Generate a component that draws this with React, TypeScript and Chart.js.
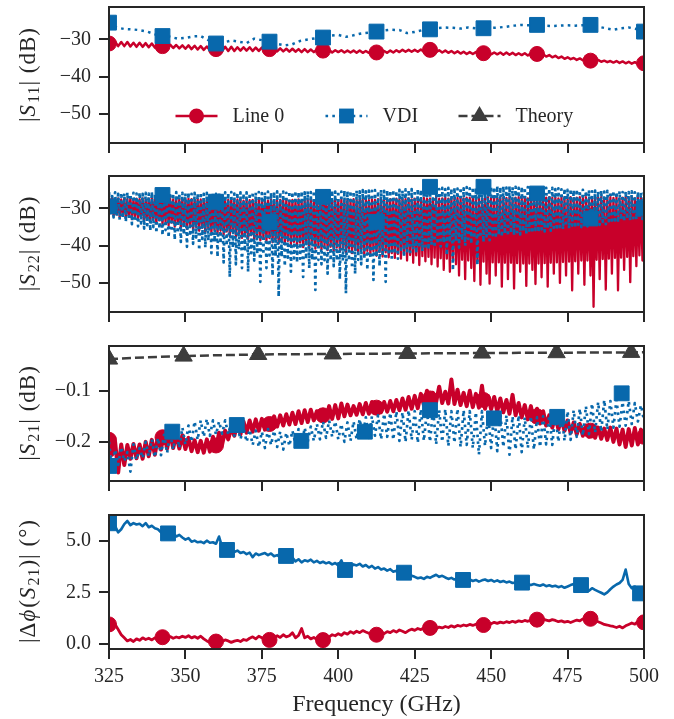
import React, { useEffect, useRef } from 'react';
import { Chart, registerables } from 'chart.js';

Chart.register(...registerables);

const FONT = "'Liberation Serif', 'Times New Roman', serif";
const TEXT = '#262626';
const SPINE = '#262626';
const RED = '#c8002a';
const BLUE = '#0868ac';
const GREY = '#3d3d3d';

// ---------------- data ----------------
const FREQ = [
  325, 326, 327, 328, 329, 330, 331, 332, 333, 334,
  335, 336, 337, 338, 339, 340, 341, 342, 343, 344,
  345, 346, 347, 348, 349, 350, 351, 352, 353, 354,
  355, 356, 357, 358, 359, 360, 361, 362, 363, 364,
  365, 366, 367, 368, 369, 370, 371, 372, 373, 374,
  375, 376, 377, 378, 379, 380, 381, 382, 383, 384,
  385, 386, 387, 388, 389, 390, 391, 392, 393, 394,
  395, 396, 397, 398, 399, 400, 401, 402, 403, 404,
  405, 406, 407, 408, 409, 410, 411, 412, 413, 414,
  415, 416, 417, 418, 419, 420, 421, 422, 423, 424,
  425, 426, 427, 428, 429, 430, 431, 432, 433, 434,
  435, 436, 437, 438, 439, 440, 441, 442, 443, 444,
  445, 446, 447, 448, 449, 450, 451, 452, 453, 454,
  455, 456, 457, 458, 459, 460, 461, 462, 463, 464,
  465, 466, 467, 468, 469, 470, 471, 472, 473, 474,
  475, 476, 477, 478, 479, 480, 481, 482, 483, 484,
  485, 486, 487, 488, 489, 490, 491, 492, 493, 494,
  495, 496, 497, 498, 499, 500,
];

const FREQ_HALF = [
  325, 325.5, 326, 326.5, 327, 327.5, 328, 328.5, 329, 329.5,
  330, 330.5, 331, 331.5, 332, 332.5, 333, 333.5, 334, 334.5,
  335, 335.5, 336, 336.5, 337, 337.5, 338, 338.5, 339, 339.5,
  340, 340.5, 341, 341.5, 342, 342.5, 343, 343.5, 344, 344.5,
  345, 345.5, 346, 346.5, 347, 347.5, 348, 348.5, 349, 349.5,
  350, 350.5, 351, 351.5, 352, 352.5, 353, 353.5, 354, 354.5,
  355, 355.5, 356, 356.5, 357, 357.5, 358, 358.5, 359, 359.5,
  360, 360.5, 361, 361.5, 362, 362.5, 363, 363.5, 364, 364.5,
  365, 365.5, 366, 366.5, 367, 367.5, 368, 368.5, 369, 369.5,
  370, 370.5, 371, 371.5, 372, 372.5, 373, 373.5, 374, 374.5,
  375, 375.5, 376, 376.5, 377, 377.5, 378, 378.5, 379, 379.5,
  380, 380.5, 381, 381.5, 382, 382.5, 383, 383.5, 384, 384.5,
  385, 385.5, 386, 386.5, 387, 387.5, 388, 388.5, 389, 389.5,
  390, 390.5, 391, 391.5, 392, 392.5, 393, 393.5, 394, 394.5,
  395, 395.5, 396, 396.5, 397, 397.5, 398, 398.5, 399, 399.5,
  400, 400.5, 401, 401.5, 402, 402.5, 403, 403.5, 404, 404.5,
  405, 405.5, 406, 406.5, 407, 407.5, 408, 408.5, 409, 409.5,
  410, 410.5, 411, 411.5, 412, 412.5, 413, 413.5, 414, 414.5,
  415, 415.5, 416, 416.5, 417, 417.5, 418, 418.5, 419, 419.5,
  420, 420.5, 421, 421.5, 422, 422.5, 423, 423.5, 424, 424.5,
  425, 425.5, 426, 426.5, 427, 427.5, 428, 428.5, 429, 429.5,
  430, 430.5, 431, 431.5, 432, 432.5, 433, 433.5, 434, 434.5,
  435, 435.5, 436, 436.5, 437, 437.5, 438, 438.5, 439, 439.5,
  440, 440.5, 441, 441.5, 442, 442.5, 443, 443.5, 444, 444.5,
  445, 445.5, 446, 446.5, 447, 447.5, 448, 448.5, 449, 449.5,
  450, 450.5, 451, 451.5, 452, 452.5, 453, 453.5, 454, 454.5,
  455, 455.5, 456, 456.5, 457, 457.5, 458, 458.5, 459, 459.5,
  460, 460.5, 461, 461.5, 462, 462.5, 463, 463.5, 464, 464.5,
  465, 465.5, 466, 466.5, 467, 467.5, 468, 468.5, 469, 469.5,
  470, 470.5, 471, 471.5, 472, 472.5, 473, 473.5, 474, 474.5,
  475, 475.5, 476, 476.5, 477, 477.5, 478, 478.5, 479, 479.5,
  480, 480.5, 481, 481.5, 482, 482.5, 483, 483.5, 484, 484.5,
  485, 485.5, 486, 486.5, 487, 487.5, 488, 488.5, 489, 489.5,
  490, 490.5, 491, 491.5, 492, 492.5, 493, 493.5, 494, 494.5,
  495, 495.5, 496, 496.5, 497, 497.5, 498, 498.5, 499, 499.5,
  500,
];

const FREQ_S11_VDI = [
  325, 327.5, 330, 332.5, 335, 337.5, 340, 342.5, 345, 347.5,
  350, 352.5, 355, 357.5, 360, 362.5, 365, 367.5, 370, 372.5,
  375, 377.5, 380, 382.5, 385, 387.5, 390, 392.5, 395, 397.5,
  400, 402.5, 405, 407.5, 410, 412.5, 415, 417.5, 420, 422.5,
  425, 427.5, 430, 432.5, 435, 437.5, 440, 442.5, 445, 447.5,
  450, 452.5, 455, 457.5, 460, 462.5, 465, 467.5, 470, 472.5,
  475, 477.5, 480, 482.5, 485, 487.5, 490, 492.5, 495, 497.5,
  500,
];

const S11_LINE0 = [
  -30.5, -31.6, -30.6, -31.8, -30.7, -31.8, -30.7, -31.9, -30.9, -32.0,
  -30.9, -32.0, -31.0, -32.1, -31.1, -32.2, -31.1, -32.3, -31.3, -32.4,
  -31.4, -32.3, -31.5, -32.4, -31.6, -32.5, -31.6, -32.6, -31.7, -32.7,
  -31.8, -32.8, -31.9, -32.9, -32.0, -33.0, -31.9, -33.1, -32.0, -33.1,
  -32.0, -33.1, -32.1, -33.0, -32.1, -33.0, -32.1, -33.1, -32.2, -33.1,
  -32.2, -33.1, -32.3, -33.2, -32.3, -33.2, -32.4, -33.2, -32.5, -33.3,
  -32.5, -33.3, -32.6, -33.4, -32.6, -33.4, -32.7, -33.4, -32.7, -33.5,
  -32.8, -33.4, -32.8, -33.5, -32.9, -33.4, -32.9, -33.5, -33.0, -33.5,
  -33.0, -33.6, -33.0, -33.6, -33.1, -33.6, -33.1, -33.7, -33.1, -33.6,
  -33.1, -33.6, -33.0, -33.5, -32.9, -33.4, -32.8, -33.3, -32.8, -33.3,
  -32.8, -33.3, -32.7, -33.3, -32.8, -33.3, -32.8, -33.4, -32.9, -33.5,
  -33.0, -33.6, -33.1, -33.7, -33.2, -33.8, -33.3, -33.9, -33.4, -33.9,
  -33.4, -34.0, -33.5, -34.0, -33.5, -34.0, -33.5, -34.0, -33.5, -34.1,
  -33.5, -34.1, -33.6, -34.2, -33.7, -34.2, -33.7, -34.3, -33.8, -34.4,
  -33.8, -34.4, -34.0, -34.6, -34.2, -34.8, -34.4, -35.0, -34.6, -35.2,
  -34.8, -35.3, -35.0, -35.5, -35.1, -35.6, -35.3, -35.8, -35.4, -35.9,
  -35.5, -36.0, -35.7, -36.1, -35.8, -36.2, -35.8, -36.3, -35.9, -36.4,
  -36.0, -36.5, -36.1, -36.6, -36.2, -36.6,
];

const S11_VDI = [
  -25.5, -26.8, -27.2, -27.3, -27.5, -27.9, -28.6, -29.1, -29.3, -29.8,
  -29.6, -29.2, -29.1, -30.2, -31.0, -30.8, -30.3, -30.6, -31.0, -29.8,
  -30.2, -30.6, -31.2, -31.6, -31.3, -30.4, -30.0, -29.7, -29.5, -29.0,
  -28.8, -29.3, -28.9, -28.4, -28.2, -27.9, -27.6, -27.4, -27.5, -28.3,
  -28.0, -27.5, -27.3, -27.0, -26.8, -26.9, -27.1, -26.8, -27.0, -27.0,
  -26.9, -26.8, -26.6, -26.3, -26.1, -26.2, -26.1, -26.3, -26.4, -26.3,
  -26.2, -26.3, -26.2, -26.1, -26.6, -27.0, -27.4, -27.0, -26.8, -27.2,
  -27.9,
];

// S22 at 0.5 GHz (ripple peaks and troughs)
const S22_LINE0 = [
  -27.4, -31.2, -27.2, -32.0, -27.5, -31.6, -27.3, -32.3, -27.6, -31.8,
  -27.3, -32.6, -27.5, -32.0, -27.2, -32.9, -27.6, -32.2, -27.4, -33.1,
  -27.5, -32.5, -27.3, -33.4, -27.6, -32.8, -27.4, -33.7, -27.2, -33.0,
  -27.5, -34.0, -27.3, -33.2, -27.6, -34.3, -27.4, -33.6, -27.5, -34.6,
  -27.3, -33.8, -27.6, -34.9, -27.4, -34.1, -27.5, -35.2, -27.3, -34.4,
  -27.6, -35.5, -27.4, -34.6, -27.5, -35.8, -27.7, -35.0, -27.4, -36.0,
  -27.6, -35.2, -27.5, -36.3, -27.7, -35.5, -27.4, -36.6, -27.6, -35.8,
  -27.7, -36.8, -27.5, -36.0, -27.8, -37.1, -27.6, -36.2, -27.7, -37.4,
  -27.5, -36.5, -27.8, -37.6, -27.6, -36.8, -27.7, -37.9, -27.9, -37.0,
  -27.6, -38.2, -27.8, -37.2, -27.7, -38.4, -27.9, -37.5, -27.6, -38.6,
  -27.8, -37.8, -27.7, -38.9, -27.9, -38.0, -27.6, -39.1, -27.8, -38.2,
  -27.9, -39.4, -27.7, -38.5, -27.8, -39.6, -27.6, -38.7, -27.9, -39.9,
  -27.7, -39.0, -27.8, -40.1, -27.6, -39.2, -27.9, -40.4, -27.7, -39.5,
  -27.8, -40.6, -27.6, -39.7, -27.9, -40.8, -27.7, -39.9, -27.8, -41.0,
  -27.6, -40.1, -27.9, -41.2, -27.7, -40.3, -27.8, -41.4, -27.6, -40.5,
  -27.9, -41.6, -27.7, -40.7, -27.8, -41.8, -27.6, -40.8, -27.7, -42.0,
  -27.5, -41.0, -27.8, -42.2, -27.6, -41.2, -27.7, -42.4, -27.5, -41.4,
  -27.8, -42.5, -27.6, -41.5, -27.7, -42.7, -27.5, -41.7, -27.6, -42.9,
  -27.4, -41.8, -27.7, -43.1, -27.5, -42.0, -27.6, -43.3, -27.4, -42.2,
  -27.6, -43.5, -27.4, -42.3, -27.5, -44.0, -27.3, -42.5, -27.6, -44.6,
  -27.4, -42.6, -27.3, -45.2, -27.5, -42.8, -27.2, -44.2, -27.4, -43.0,
  -27.3, -45.0, -27.5, -43.2, -27.2, -45.6, -27.4, -43.4, -27.3, -46.5,
  -27.2, -43.5, -27.4, -47.0, -27.1, -43.6, -27.3, -45.0, -27.2, -48.0,
  -27.0, -43.8, -27.3, -49.0, -27.1, -44.0, -27.2, -46.0, -27.0, -49.5,
  -27.2, -44.2, -27.0, -50.5, -27.3, -44.3, -27.1, -47.5, -27.0, -50.2,
  -27.2, -44.5, -27.0, -48.0, -27.3, -44.5, -27.1, -51.0, -27.0, -44.6,
  -27.2, -49.0, -27.0, -44.6, -27.3, -51.5, -27.1, -44.7, -27.0, -47.0,
  -27.2, -44.8, -27.0, -50.8, -27.3, -44.8, -27.1, -46.5, -27.0, -50.3,
  -27.2, -44.8, -27.0, -48.5, -27.3, -44.7, -27.1, -51.0, -27.0, -44.6,
  -27.2, -47.5, -27.0, -44.5, -27.3, -50.0, -27.1, -44.4, -27.0, -48.0,
  -27.2, -44.3, -27.0, -52.0, -27.3, -44.2, -27.1, -47.5, -27.0, -44.0,
  -27.2, -50.5, -27.0, -44.0, -27.3, -48.0, -27.1, -56.4, -27.0, -43.8,
  -27.2, -49.0, -27.0, -43.6, -27.3, -51.8, -27.1, -43.5, -27.0, -47.5,
  -27.2, -43.3, -27.0, -52.0, -27.3, -43.2, -27.1, -46.5, -27.0, -43.0,
  -27.2, -49.8, -27.0, -42.8, -27.3, -45.5, -27.1, -42.6, -27.0, -44.0,
  -27.2,
];

const S22_VDI = [
  -25.6, -31.5, -26.0, -32.4, -25.7, -32.0, -26.1, -33.0, -25.8, -32.6,
  -26.0, -33.6, -25.7, -33.0, -26.2, -34.2, -25.8, -33.5, -26.0, -34.8,
  -25.7, -34.0, -26.1, -35.4, -25.8, -34.5, -26.0, -36.0, -25.6, -35.0,
  -26.1, -36.6, -25.8, -35.4, -26.0, -37.2, -25.7, -35.8, -26.1, -37.8,
  -25.8, -36.2, -26.0, -38.4, -25.6, -36.6, -26.1, -39.0, -25.8, -37.0,
  -26.0, -40.3, -25.7, -37.4, -26.1, -39.5, -25.8, -37.8, -26.0, -41.2,
  -25.7, -38.2, -26.1, -40.5, -25.8, -38.6, -26.0, -42.0, -25.6, -39.0,
  -26.1, -43.0, -25.8, -39.4, -26.0, -44.5, -25.7, -40.0, -25.9, -48.4,
  -25.6, -40.5, -26.0, -45.0, -25.8, -41.0, -25.7, -46.0, -26.0, -41.5,
  -25.7, -47.0, -25.9, -42.0, -25.6, -44.0, -25.8, -42.2, -25.6, -49.7,
  -25.9, -42.4, -25.7, -46.0, -25.5, -42.6, -25.8, -48.0, -25.6, -42.8,
  -25.4, -53.7, -25.7, -43.0, -25.5, -45.5, -25.8, -43.2, -25.4, -47.0,
  -25.6, -43.4, -25.3, -44.5, -25.6, -43.5, -25.4, -48.4, -25.7, -43.6,
  -25.4, -46.0, -25.6, -43.8, -25.3, -51.9, -25.5, -43.8, -25.4, -45.0,
  -25.6, -43.9, -25.3, -47.5, -25.5, -44.0, -25.2, -45.5, -25.5, -44.0,
  -25.3, -49.0, -25.5, -44.0, -25.2, -52.8, -25.4, -44.0, -25.3, -46.0,
  -25.5, -47.5, -25.2, -43.8, -25.4, -45.0, -25.1, -43.6, -25.4, -46.5,
  -25.2, -43.4, -25.3, -49.2, -25.1, -43.0, -25.4, -45.5, -25.0, -42.8,
  -25.3, -49.7, -25.1, -42.5, -25.2, -44.0, -25.0, -42.2, -25.3, -43.5,
  -25.0, -41.8, -25.2, -43.0, -24.9, -41.5, -25.1, -42.5, -24.8, -41.0,
  -25.1, -42.0, -24.8, -40.6, -25.0, -41.5, -24.7, -40.2, -24.9, -41.0,
  -24.6, -39.8, -24.9, -40.5, -24.6, -39.5, -24.8, -40.2, -24.5, -39.2,
  -24.8, -42.5, -24.5, -39.0, -24.7, -46.6, -24.4, -38.8, -24.7, -40.5,
  -24.4, -38.5, -24.6, -40.0, -24.3, -38.2, -24.6, -39.5, -24.3, -38.0,
  -24.5, -45.2, -24.2, -37.8, -24.5, -39.0, -24.1, -37.5, -24.4, -38.5,
  -24.1, -37.2, -24.3, -38.0, -24.0, -37.0, -24.3, -37.6, -24.1, -36.8,
  -24.4, -37.4, -24.0, -36.6, -24.3, -37.2, -24.2, -36.4, -24.5, -37.0,
  -24.2, -36.2, -24.4, -36.8, -24.3, -36.0, -24.6, -36.6, -24.4, -35.8,
  -24.6, -36.4, -24.4, -35.6, -24.7, -36.2, -24.5, -35.4, -24.7, -36.0,
  -24.5, -35.2, -24.8, -35.8, -24.6, -35.0, -24.9, -35.6, -24.7, -34.8,
  -25.0, -35.4, -24.8, -34.6, -25.1, -35.2, -24.9, -34.4, -25.2, -35.0,
  -25.0, -34.2, -25.3, -34.8, -25.1, -34.0, -25.4, -34.6, -25.2, -33.8,
  -25.4, -34.4, -25.2, -33.6, -25.5, -34.2, -25.3, -33.4, -25.5, -34.0,
  -25.3, -33.2, -25.6, -33.8, -25.4, -33.0, -25.6, -33.5, -25.4, -32.8,
  -25.6, -33.2, -25.4, -32.6, -25.7, -33.0, -25.5, -32.4, -25.6, -32.8,
  -25.6,
];

const S21_LINE0 = [
  -0.193, -0.225, -0.200, -0.260, -0.205, -0.245, -0.206, -0.233, -0.204, -0.232,
  -0.205, -0.233, -0.200, -0.228, -0.196, -0.225, -0.190, -0.215, -0.180, -0.213,
  -0.182, -0.212, -0.185, -0.213, -0.187, -0.214, -0.192, -0.218, -0.197, -0.220,
  -0.198, -0.221, -0.195, -0.219, -0.190, -0.215, -0.182, -0.205, -0.178, -0.195,
  -0.172, -0.188, -0.164, -0.185, -0.160, -0.182, -0.158, -0.180, -0.156, -0.178,
  -0.155, -0.176, -0.156, -0.172, -0.150, -0.170, -0.148, -0.168, -0.146, -0.166,
  -0.143, -0.165, -0.140, -0.163, -0.138, -0.161, -0.137, -0.158, -0.140, -0.156,
  -0.138, -0.156, -0.130, -0.155, -0.128, -0.154, -0.125, -0.150, -0.127, -0.148,
  -0.130, -0.147, -0.126, -0.146, -0.124, -0.145, -0.122, -0.143, -0.124, -0.142,
  -0.122, -0.141, -0.120, -0.140, -0.118, -0.138, -0.115, -0.137, -0.112, -0.135,
  -0.110, -0.134, -0.106, -0.128, -0.100, -0.125, -0.104, -0.122, -0.092, -0.124,
  -0.102, -0.125, -0.078, -0.126, -0.098, -0.128, -0.104, -0.130, -0.100, -0.132,
  -0.106, -0.133, -0.090, -0.135, -0.110, -0.136, -0.112, -0.140, -0.115, -0.142,
  -0.118, -0.145, -0.108, -0.148, -0.124, -0.152, -0.128, -0.156, -0.130, -0.160,
  -0.135, -0.164, -0.140, -0.168, -0.148, -0.172, -0.150, -0.175, -0.155, -0.178,
  -0.158, -0.182, -0.162, -0.185, -0.165, -0.188, -0.168, -0.190, -0.170, -0.192,
  -0.172, -0.194, -0.174, -0.196, -0.172, -0.200, -0.174, -0.205, -0.176, -0.210,
  -0.175, -0.207, -0.173, -0.205, -0.176, -0.200,
];

const S21_VDI = [
  -0.200, -0.252, -0.215, -0.245, -0.210, -0.238, -0.220, -0.258, -0.205, -0.235,
  -0.212, -0.232, -0.200, -0.228, -0.195, -0.230, -0.192, -0.226, -0.186, -0.222,
  -0.182, -0.215, -0.178, -0.212, -0.172, -0.205, -0.168, -0.200, -0.160, -0.196,
  -0.158, -0.190, -0.155, -0.188, -0.158, -0.186, -0.160, -0.184, -0.158, -0.185,
  -0.162, -0.188, -0.168, -0.195, -0.172, -0.200, -0.176, -0.206, -0.178, -0.210,
  -0.180, -0.212, -0.175, -0.206, -0.178, -0.210, -0.180, -0.215, -0.182, -0.208,
  -0.178, -0.205, -0.175, -0.210, -0.172, -0.200, -0.170, -0.198, -0.165, -0.195,
  -0.160, -0.192, -0.158, -0.190, -0.160, -0.195, -0.165, -0.200, -0.162, -0.198,
  -0.160, -0.195, -0.155, -0.190, -0.152, -0.192, -0.150, -0.188, -0.148, -0.195,
  -0.145, -0.190, -0.143, -0.196, -0.140, -0.198, -0.142, -0.200, -0.138, -0.196,
  -0.140, -0.202, -0.136, -0.198, -0.138, -0.200, -0.135, -0.205, -0.138, -0.200,
  -0.136, -0.208, -0.140, -0.202, -0.135, -0.210, -0.138, -0.206, -0.140, -0.212,
  -0.142, -0.225, -0.140, -0.208, -0.145, -0.212, -0.142, -0.218, -0.145, -0.210,
  -0.148, -0.225, -0.150, -0.215, -0.148, -0.220, -0.152, -0.212, -0.150, -0.215,
  -0.152, -0.210, -0.150, -0.205, -0.148, -0.206, -0.145, -0.200, -0.142, -0.198,
  -0.140, -0.196, -0.138, -0.190, -0.135, -0.188, -0.130, -0.185, -0.125, -0.182,
  -0.122, -0.180, -0.118, -0.176, -0.120, -0.172, -0.118, -0.170, -0.122, -0.168,
  -0.120, -0.165, -0.124, -0.160, -0.128, -0.158,
];

const THEORY_FREQ = [325, 337.2, 349.4, 361.6, 373.8, 386, 398.2, 410.4, 422.6, 434.8, 447, 459.2, 471.4, 483.6, 495.8, 500];
const S21_THEORY = [-0.038, -0.0345, -0.0322, -0.0303, -0.029, -0.0284, -0.028, -0.0275, -0.027, -0.0266, -0.0262, -0.0258, -0.0255, -0.0252, -0.0249, -0.0248];

const PHASE_LINE0 = [
  1.10, 0.85, 0.95, 0.70, 0.45, 0.30, 0.15, 0.22, 0.12, 0.25,
  0.18, 0.30, 0.22, 0.28, 0.20, 0.30, 0.24, 0.32, 0.26, 0.30,
  0.36, 0.28, 0.34, 0.30, 0.38, 0.32, 0.40, 0.30, 0.36, 0.28,
  0.38, 0.25, 0.15, 0.08, 0.12, 0.10, 0.18, 0.12, 0.20, 0.15,
  0.08, 0.14, 0.18, 0.12, 0.22, 0.18, 0.28, 0.35, 0.25, 0.38,
  0.30, 0.25, 0.20, 0.35, 0.28, 0.40, 0.32, 0.45, 0.35, 0.40,
  0.55, 0.30, 0.42, 0.75, 0.30, 0.38, 0.25, 0.32, 0.22, 0.18,
  0.20, 0.28, 0.35, 0.45, 0.40, 0.50, 0.42, 0.55, 0.48, 0.60,
  0.52, 0.62, 0.55, 0.65, 0.58, 0.52, 0.45, 0.42, 0.48, 0.55,
  0.50, 0.60, 0.55, 0.65, 0.58, 0.68, 0.62, 0.55, 0.65, 0.72,
  0.66, 0.75, 0.70, 0.78, 0.82, 0.76, 0.80, 0.74, 0.82, 0.78,
  0.85, 0.80, 0.88, 0.82, 0.90, 0.86, 0.92, 0.88, 0.95, 0.90,
  0.96, 0.92, 0.98, 0.94, 1.02, 0.98, 1.05, 1.00, 1.06, 1.02,
  1.08, 1.04, 1.10, 1.05, 1.12, 1.08, 1.14, 1.10, 1.16, 1.12,
  1.18, 1.14, 1.20, 1.16, 1.12, 1.18, 1.14, 1.08, 1.12, 1.06,
  1.10, 1.04, 1.10, 1.16, 1.12, 1.22, 1.18, 1.26, 1.20, 1.15,
  1.08, 1.02, 0.95, 0.92, 0.88, 0.85, 0.80, 0.86, 0.78, 0.88,
  0.95, 1.02, 0.96, 1.08, 1.02, 1.10,
];

const PHASE_VDI = [
  5.85, 6.00, 5.70, 5.40, 5.55, 5.80, 5.95, 5.75, 5.85, 5.78,
  5.82, 5.70, 5.85, 5.65, 5.72, 5.60, 5.55, 5.40, 5.45, 5.35,
  5.30, 5.35, 5.20, 5.28, 5.15, 5.05, 5.12, 4.95, 5.00, 4.92,
  4.95, 4.88, 5.00, 4.90, 4.92, 4.85, 5.20, 4.70, 4.60, 4.50,
  4.55, 4.45, 4.52, 4.40, 4.45, 4.35, 4.42, 4.20, 4.38, 4.30,
  4.35, 4.40, 4.30, 4.38, 4.25, 4.30, 4.20, 4.25, 4.15, 4.10,
  4.18, 4.00, 4.10, 3.95, 4.05, 4.00, 4.08, 3.95, 4.02, 3.92,
  3.98, 3.90, 3.95, 3.85, 3.92, 3.80, 4.05, 3.65, 3.60, 3.70,
  3.85, 3.80, 3.88, 3.75, 3.82, 3.70, 3.78, 3.65, 3.72, 3.60,
  3.65, 3.55, 3.62, 3.50, 3.55, 3.45, 3.42, 3.48, 3.40, 3.30,
  3.25, 3.18, 3.22, 3.15, 3.25, 3.20, 3.28, 3.35, 3.25, 3.30,
  3.22, 3.15, 3.20, 3.12, 3.18, 3.10, 3.15, 3.08, 3.12, 3.05,
  3.10, 3.02, 3.08, 3.12, 3.05, 3.10, 3.02, 3.08, 3.00, 3.05,
  2.98, 3.02, 2.95, 2.98, 2.92, 2.96, 2.88, 2.92, 2.85, 2.90,
  2.86, 2.82, 2.88, 2.80, 2.84, 2.78, 2.82, 2.75, 2.80, 2.72,
  2.78, 2.85, 2.90, 2.70, 2.62, 2.55, 2.65, 2.58, 2.70, 2.62,
  2.55, 2.48, 2.40, 2.50, 2.65, 2.78, 2.88, 2.95, 3.10, 3.60,
  2.90, 2.70, 2.78, 2.55, 2.62, 2.70,
];

// marker positions (markevery)
const MK_FREQ = [325, 342.5, 360, 377.5, 395, 412.5, 430, 447.5, 465, 482.5, 500];
const S11_LINE0_MK = [-31.1, -31.8, -32.6, -32.6, -33.0, -33.5, -32.8, -33.7, -33.9, -35.7, -36.4];
const S11_VDI_MK = [-25.5, -29.1, -31.1, -30.6, -29.5, -27.9, -27.3, -27.0, -26.1, -26.1, -27.9];
const S22_LINE0_MK = [-29.5, -29.0, -30.5, -31.0, -31.0, -32.0, -31.0, -31.5, -32.0, -32.0, -31.0];
const S22_VDI_MK = [-29.5, -26.4, -28.2, -33.6, -26.9, -33.6, -24.2, -24.2, -26.0, -32.7, -30.0];
const S21_LINE0_MK = [-0.196, -0.191, -0.207, -0.165, -0.148, -0.133, -0.115, -0.118, -0.150, -0.178, -0.190];
const S21_VDI_MK_FREQ = [325, 345.7, 366.8, 387.9, 408.7, 430, 450.9, 471.6, 492.7];
const S21_VDI_MK = [-0.247, -0.180, -0.167, -0.198, -0.180, -0.138, -0.154, -0.151, -0.105];
const THEORY_MK_FREQ = [325, 349.4, 373.8, 398.2, 422.6, 447, 471.4, 495.8];
const THEORY_MK = [-0.038, -0.0322, -0.029, -0.028, -0.027, -0.0262, -0.0255, -0.0249];
const PHASE_LINE0_MK = [0.95, 0.33, 0.12, 0.20, 0.19, 0.45, 0.78, 0.92, 1.18, 1.22, 1.05];
const PHASE_VDI_MK_FREQ = [325, 344.3, 363.6, 382.9, 402.2, 421.5, 440.8, 460.1, 479.4, 498.7];
const PHASE_VDI_MK = [5.84, 5.35, 4.55, 4.26, 3.58, 3.45, 3.10, 2.97, 2.85, 2.45];

const X_TICKS = [325, 350, 375, 400, 425, 450, 475, 500];
const Y_TICKS_DB = [-50, -40, -30];
const Y_TICKS_S21 = [-0.2, -0.1];
const Y_TICKS_PHASE = [0, 2.5, 5];

const LEGEND_LABELS = ['Line 0', 'VDI', 'Theory'];
const X_TITLE = 'Frequency (GHz)';
const Y_TITLES: any[] = [
  [['|', 'n'], ['S', 'i'], ['11', 's'], ['| (dB)', 'n']],
  [['|', 'n'], ['S', 'i'], ['22', 's'], ['| (dB)', 'n']],
  [['|', 'n'], ['S', 'i'], ['21', 's'], ['| (dB)', 'n']],
  [['|\u0394', 'n'], ['\u03d5', 'i'], ['(', 'n'], ['S', 'i'], ['21', 's'], [')| (\u00b0)', 'n']],
];

// ---------------- helpers ----------------
const pts = (xs: number[], ys: number[]) => ys.map((y, i) => ({ x: xs[i], y }));

const lineDs = (xs: number[], ys: number[], color: string, dash: number[], order: number, width = 2.5) => ({
  data: pts(xs, ys),
  borderColor: color,
  backgroundColor: color,
  borderWidth: width,
  borderDash: dash,
  borderCapStyle: 'butt',
  borderJoinStyle: 'round',
  pointRadius: 0,
  tension: 0,
  fill: false,
  clip: 0,
  order,
});

const markDs = (xs: number[], ys: number[], style: string, r: number, color: string, order: number) => ({
  data: pts(xs, ys),
  showLine: false,
  pointStyle: style,
  pointRadius: r,
  pointBackgroundColor: color,
  pointBorderColor: color,
  pointBorderWidth: 1,
  clip: 0,
  order,
});

const DOT = [2.6, 4.2];
const DOT_DENSE = [2.8, 3.6];
const DASH = [9, 4];
const R_CIRCLE = 7.5;
const R_RECT = 10.5;
const R_TRI = 10;

const minusFmt = (v: number, d: number) => (v < 0 ? '\u2212' : '') + Math.abs(v).toFixed(d);

const PANELS: any[] = [
  {
    top: 0, height: 157, axisH: 14, ymin: -57.8, ymax: -21.3, yticks: Y_TICKS_DB, dec: 0, legend: true,
    datasets: () => [
      lineDs(FREQ, S11_LINE0, RED, [], 4),
      markDs(MK_FREQ, S11_LINE0_MK, 'circle', R_CIRCLE, RED, 3),
      lineDs(FREQ_S11_VDI, S11_VDI, BLUE, DOT, 2),
      markDs(MK_FREQ, S11_VDI_MK, 'rect', R_RECT, BLUE, 1),
    ],
  },
  {
    top: 169, height: 157, axisH: 14, ymin: -57.8, ymax: -21.3, yticks: Y_TICKS_DB, dec: 0,
    datasets: () => [
      lineDs(FREQ_HALF, S22_LINE0, RED, [], 4, 2.3),
      markDs(MK_FREQ, S22_LINE0_MK, 'circle', R_CIRCLE, RED, 3),
      lineDs(FREQ_HALF, S22_VDI, BLUE, DOT_DENSE, 2, 2.7),
      markDs(MK_FREQ, S22_VDI_MK, 'rect', R_RECT, BLUE, 1),
    ],
  },
  {
    top: 339, height: 156, axisH: 14, ymin: -0.2765, ymax: -0.0124, yticks: Y_TICKS_S21, dec: 1,
    datasets: () => [
      lineDs(FREQ, S21_LINE0, RED, [], 4, 4),
      markDs(MK_FREQ, S21_LINE0_MK, 'circle', R_CIRCLE, RED, 3),
      lineDs(FREQ, S21_VDI, BLUE, DOT, 2, 2.7),
      markDs(S21_VDI_MK_FREQ, S21_VDI_MK, 'rect', R_RECT, BLUE, 1),
      lineDs(THEORY_FREQ, S21_THEORY, GREY, DASH, 0),
      markDs(THEORY_MK_FREQ, THEORY_MK, 'triangle', R_TRI, GREY, 0),
    ],
  },
  {
    top: 508, height: 211, axisH: 70, ymin: -0.24, ymax: 6.24, yticks: Y_TICKS_PHASE, dec: 1, xlabels: true,
    datasets: () => [
      lineDs(FREQ, PHASE_LINE0, RED, [], 4, 2.8),
      markDs(MK_FREQ, PHASE_LINE0_MK, 'circle', R_CIRCLE, RED, 3),
      lineDs(FREQ, PHASE_VDI, BLUE, [], 2, 2.6),
      markDs(PHASE_VDI_MK_FREQ, PHASE_VDI_MK, 'rect', R_RECT, BLUE, 1),
    ],
  },
];

// ---------------- plugins ----------------
const spinePlugin = {
  id: 'spines',
  afterDraw(chart: any) {
    const { ctx, chartArea: a } = chart;
    ctx.save();
    ctx.strokeStyle = SPINE;
    ctx.lineWidth = 2;
    ctx.strokeRect(a.left, a.top, a.right - a.left, a.bottom - a.top);
    ctx.restore();
  },
};

const TS = 23;
const richTitlePlugin = (segs: any[]) => ({
  id: 'richTitle',
  afterDraw(chart: any) {
    const { ctx, chartArea: a } = chart;
    const cx = 27;
    const cy = (a.top + a.bottom) / 2;
    ctx.save();
    ctx.translate(cx, cy);
    ctx.rotate(-Math.PI / 2);
    ctx.fillStyle = TEXT;
    ctx.textAlign = 'left';
    ctx.textBaseline = 'alphabetic';
    try { (ctx as any).letterSpacing = '1px'; } catch (e) { /* ignore */ }
    const fonts = segs.map(([, k]: any) =>
      k === 'i' ? `italic ${TS}px ${FONT}` : k === 's' ? `${Math.round(TS * 0.7)}px ${FONT}` : `${TS}px ${FONT}`);
    const widths = segs.map(([t]: any, i: number) => { ctx.font = fonts[i]; return ctx.measureText(t).width; });
    const total = widths.reduce((s: number, w: number) => s + w, 0);
    let x = -total / 2;
    const base = TS * 0.34;
    segs.forEach(([t, k]: any, i: number) => {
      ctx.font = fonts[i];
      ctx.fillText(t, x, k === 's' ? base + TS * 0.2 : base);
      x += widths[i] + (k === 'i' ? 1 : 0);
    });
    ctx.restore();
  },
});

const legendPlugin = {
  id: 'customLegend',
  afterDraw(chart: any) {
    const { ctx, chartArea: a } = chart;
    const y = a.bottom - 27;
    const start = (a.left + a.right) / 2 - 201;
    const items = [
      { off: 0, color: RED, dash: [], marker: 'circle', text: LEGEND_LABELS[0] },
      { off: 150, color: BLUE, dash: DOT, marker: 'rect', text: LEGEND_LABELS[1] },
      { off: 283, color: GREY, dash: DASH, marker: 'triangle', text: LEGEND_LABELS[2] },
    ];
    ctx.save();
    items.forEach((it) => {
      const x0 = start + it.off;
      const x1 = x0 + 42;
      const xm = (x0 + x1) / 2;
      ctx.strokeStyle = it.color;
      ctx.lineWidth = 2.5;
      ctx.setLineDash(it.dash);
      ctx.beginPath();
      ctx.moveTo(x0, y);
      ctx.lineTo(x1, y);
      ctx.stroke();
      ctx.setLineDash([]);
      ctx.fillStyle = it.color;
      ctx.beginPath();
      if (it.marker === 'circle') {
        ctx.arc(xm, y, R_CIRCLE, 0, Math.PI * 2);
      } else if (it.marker === 'rect') {
        const s = R_RECT * Math.SQRT1_2;
        ctx.rect(xm - s, y - s, 2 * s, 2 * s);
      } else {
        const r = R_TRI;
        ctx.moveTo(xm, y - r);
        ctx.lineTo(xm + r * Math.sin((2 * Math.PI) / 3), y - r * Math.cos((2 * Math.PI) / 3));
        ctx.lineTo(xm - r * Math.sin((2 * Math.PI) / 3), y - r * Math.cos((2 * Math.PI) / 3));
        ctx.closePath();
      }
      ctx.fill();
      ctx.fillStyle = TEXT;
      ctx.font = `20px ${FONT}`;
      ctx.textAlign = 'left';
      ctx.textBaseline = 'middle';
      ctx.fillText(it.text, x1 + 15, y + 1);
    });
    ctx.restore();
  },
};

// ---------------- components ----------------
function Panel({ cfg, index }: any) {
  const ref = useRef<HTMLCanvasElement | null>(null);
  useEffect(() => {
    if (!ref.current) return;
    const tickFont = { family: FONT, size: 20 };
    const plugins: any[] = [spinePlugin, richTitlePlugin(Y_TITLES[index])];
    if (cfg.legend) plugins.push(legendPlugin);
    const chart = new Chart(ref.current, {
      type: 'line',
      data: { datasets: cfg.datasets() as any },
      options: {
        responsive: false,
        maintainAspectRatio: false,
        animation: false,
        events: [],
        layout: { autoPadding: false, padding: { top: 7, left: 0, right: 30, bottom: 0 } },
        plugins: { legend: { display: false }, tooltip: { enabled: false } },
        scales: {
          x: {
            type: 'linear',
            min: 325,
            max: 500,
            afterBuildTicks: (s: any) => { s.ticks = X_TICKS.map((v) => ({ value: v })); },
            afterFit: (s: any) => { s.height = cfg.axisH; s.paddingLeft = 0; s.paddingRight = 0; },
            ticks: {
              display: !!cfg.xlabels,
              font: tickFont,
              color: TEXT,
              padding: 6,
              maxRotation: 0,
              autoSkip: false,
              callback: (v: any) => String(v),
            },
            grid: { drawOnChartArea: false, drawTicks: true, tickLength: 10, color: SPINE, lineWidth: 2 },
            border: { display: false },
            title: {
              display: !!cfg.xlabels,
              text: X_TITLE,
              font: { family: FONT, size: 24 },
              color: TEXT,
              padding: { top: 0, bottom: 0 },
            },
          },
          y: {
            type: 'linear',
            min: cfg.ymin,
            max: cfg.ymax,
            afterBuildTicks: (s: any) => { s.ticks = cfg.yticks.map((v: number) => ({ value: v })); },
            afterFit: (s: any) => { s.width = 109; s.paddingTop = 0; s.paddingBottom = 0; },
            ticks: {
              font: tickFont,
              color: TEXT,
              padding: 8,
              callback: (v: any) => minusFmt(Number(v), cfg.dec),
            },
            grid: { drawOnChartArea: false, drawTicks: true, tickLength: 10, color: SPINE, lineWidth: 2 },
            border: { display: false },
          },
        },
      } as any,
      plugins,
    });
    return () => chart.destroy();
  }, []);
  return (
    <canvas
      ref={ref}
      width={674}
      height={cfg.height}
      style={{ position: 'absolute', left: 0, top: cfg.top, width: 674, height: cfg.height }}
    />
  );
}

export default function App() {
  return (
    <div style={{ position: 'absolute', left: 0, top: 0, width: 674, height: 719, background: '#ffffff' }}>
      {PANELS.map((p, i) => (
        <Panel key={i} cfg={p} index={i} />
      ))}
    </div>
  );
}
